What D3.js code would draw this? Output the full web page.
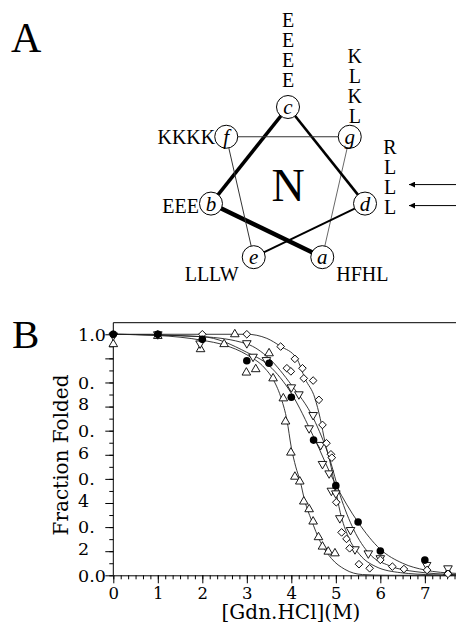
<!DOCTYPE html>
<html>
<head>
<meta charset="utf-8">
<script src="https://cdn.jsdelivr.net/npm/d3@7"></script>
<style>
  html, body { margin: 0; padding: 0; background: #fff; }
  svg { display: block; }
</style>
</head>
<body>
<div id="chart"></div>
<script>
// ---- panel A: heptad positions and residues
const heptad = ['a', 'b', 'c', 'd', 'e', 'f', 'g'];
const residues = ['HFHL', 'EEE', 'EEEE', 'RLLL', 'LLLW', 'KKKK', 'KLKL'];
const bondWidths = [4.5, 3.5, 2.6, 2, 1, 1.2, 0.6]; // a-b, b-c, ... g-a

// ---- panel B: unfolding data, [GdnHCl (M), fraction folded]
const xTicks = [0, 1, 2, 3, 4, 5, 6, 7];
const yTicks = [0, 0.2, 0.4, 0.6, 0.8, 1.0];
const yTickLabels = ['0.0', '0.|2', '0.|4', '0.|6', '0.|8', '1.0'];

const circlePts = [[0, 1.0], [1, 1.0], [2, 0.979], [3, 0.89], [3.5, 0.88], [4, 0.739],
  [4.5, 0.561], [5, 0.372], [5.5, 0.221], [6, 0.101], [7, 0.063]];

const upTriPts = [[0, 0.959], [1, 0.993], [1.96, 0.938], [2.49, 0.959], [2.73, 1.0],
  [2.99, 0.841], [3.2, 0.855], [3.5, 0.921], [3.59, 0.817], [3.82, 0.734], [3.87, 0.638],
  [3.99, 0.509], [4.08, 0.409], [4.19, 0.389], [4.28, 0.306], [4.4, 0.274], [4.49, 0.223],
  [4.61, 0.158], [4.7, 0.119], [4.83, 0.098], [4.98, 0.091], [7.52, 0.012]];

const downTriPts = [[0, 0.995], [1, 1.0], [1.95, 0.962], [3.0, 0.963], [3.14, 0.907],
  [3.44, 0.893], [4.0, 0.78], [4.17, 0.751], [4.49, 0.665], [4.4, 0.61], [4.66, 0.541],
  [4.7, 0.462], [4.85, 0.423], [4.9, 0.351], [5.0, 0.34], [5.09, 0.237], [5.33, 0.188],
  [5.43, 0.108], [5.73, 0.091], [6.0, 0.071], [7.04, 0.043], [7.52, 0.029]];

const diamondPts = [[0, 1.0], [1, 1.0], [2, 1.0], [3, 1.0], [3.76, 0.949], [4.08, 0.898],
  [3.9, 0.859], [3.99, 0.846], [4.25, 0.859], [4.28, 0.817], [4.49, 0.808], [4.62, 0.728],
  [4.7, 0.624], [4.79, 0.548], [4.89, 0.502], [4.91, 0.488], [5.01, 0.303], [5.13, 0.178],
  [5.24, 0.151], [5.31, 0.112], [5.52, 0.046], [5.76, 0.029], [6.0, 0.064], [6.27, 0.036],
  [6.53, 0.026], [7.05, 0.022], [7.52, 0.006]];

// fitted curves
const fitUpTri = [[0, 1.0], [1, 0.995], [2, 0.975], [2.5, 0.955], [3, 0.915], [3.4, 0.86],
  [3.6, 0.81], [3.78, 0.73], [3.9, 0.645], [4.0, 0.53], [4.1, 0.45], [4.2, 0.39], [4.3, 0.31],
  [4.45, 0.23], [4.65, 0.14], [4.9, 0.07], [5.2, 0.025], [5.6, 0.003], [6.2, 0], [7.7, 0]];
const fitDownTri = [[0, 1.0], [2, 0.99], [3, 0.96], [3.5, 0.9], [4, 0.79], [4.5, 0.65],
  [4.85, 0.49], [5.1, 0.33], [5.4, 0.19], [5.75, 0.09], [6.2, 0.04], [6.8, 0.015], [7.7, 0.003]];
const fitCircle = [[0, 1.0], [2, 0.99], [3, 0.925], [3.5, 0.87], [4, 0.755], [4.5, 0.575],
  [5, 0.375], [5.5, 0.22], [6, 0.108], [6.5, 0.05], [7, 0.022], [7.7, 0.008]];
const fitDiamond = [[0, 1.0], [3, 1.0], [3.45, 0.983], [3.75, 0.951], [4.12, 0.9],
  [4.31, 0.815], [4.53, 0.735], [4.65, 0.65], [4.76, 0.55], [4.87, 0.47], [4.98, 0.37],
  [5.1, 0.26], [5.28, 0.16], [5.54, 0.085], [5.9, 0.036], [6.45, 0.011], [7.2, 0.002], [7.7, 0]];

const W = 456, H = 622;
const serifA = '"Liberation Serif", "Times New Roman", serif';
const serifB = '"DejaVu Serif", serif';

const svg = d3.select('#chart').append('svg')
  .attr('width', W)
  .attr('height', H);

// ================= Panel A =================
svg.append('text')
  .attr('x', 11).attr('y', 52)
  .style('font-family', serifA).style('font-size', '42px')
  .text('A');

const wheel = svg.append('g');
const cx = 288, cy = 186, R = 79, r = 11.5;
// wheel slot of each heptad position (100 deg per residue, clockwise from top = c)
const slotOf = i => (3 + 2 * i) % 7;
const angle = d3.scaleLinear().domain([0, 7]).range([-Math.PI / 2, 1.5 * Math.PI]);
const nodes = heptad.map((p, i) => {
  const a = angle(slotOf(i));
  return { pos: p, res: residues[i], x: cx + R * Math.cos(a), y: cy + R * Math.sin(a) };
});

// connecting bonds a->b->c ... g->a
const bonds = nodes.map((n, i) => ({ s: n, t: nodes[(i + 1) % 7], w: bondWidths[i] }));
wheel.selectAll('line.bond')
  .data(bonds)
  .enter()
  .append('line')
  .attr('class', 'bond')
  .attr('x1', d => d.s.x).attr('y1', d => d.s.y)
  .attr('x2', d => d.t.x).attr('y2', d => d.t.y)
  .attr('stroke', d => d.w < 1.5 && d.w > 0.8 ? '#333' : '#000')
  .attr('stroke-width', d => d.w);

const nodeG = wheel.selectAll('g.node')
  .data(nodes)
  .enter()
  .append('g')
  .attr('class', 'node')
  .attr('transform', d => `translate(${d.x},${d.y})`);
nodeG.append('circle')
  .attr('r', r)
  .attr('fill', '#fff')
  .attr('stroke', '#000')
  .attr('stroke-width', 1);
nodeG.append('text')
  .attr('text-anchor', 'middle')
  .attr('dy', '0.33em')
  .style('font-family', serifA).style('font-style', 'italic').style('font-size', '21px')
  .text(d => d.pos);

wheel.append('text')
  .attr('x', cx).attr('y', 201)
  .attr('text-anchor', 'middle')
  .style('font-family', serifA).style('font-size', '46px')
  .text('N');

// residue labels
const labelStyle = sel => sel.style('font-family', serifA).style('font-size', '20px');
nodes.forEach(n => {
  const letters = n.res.split('');
  if (n.pos === 'c' || n.pos === 'g' || n.pos === 'd') {
    let x0, yLast;
    if (n.pos === 'c') { x0 = n.x; yLast = n.y - 27; }
    if (n.pos === 'g') { x0 = n.x + 5; yLast = n.y - 21; }
    if (n.pos === 'd') { x0 = n.x + 25; yLast = n.y + 3; }
    wheel.selectAll(null)
      .data(letters)
      .enter()
      .append('text')
      .attr('x', x0)
      .attr('y', (d, i) => yLast - (letters.length - 1 - i) * 20)
      .attr('dy', '0.35em')
      .attr('text-anchor', 'middle')
      .call(labelStyle)
      .text(d => d);
  } else {
    const t = wheel.append('text').call(labelStyle).attr('dy', '0.35em').text(n.res);
    if (n.pos === 'f') t.attr('x', n.x - 11).attr('y', n.y).attr('text-anchor', 'end');
    if (n.pos === 'b') t.attr('x', n.x - 12).attr('y', n.y + 2).attr('text-anchor', 'end');
    if (n.pos === 'e') t.attr('x', n.x - 15).attr('y', n.y + 17).attr('text-anchor', 'end');
    if (n.pos === 'a') t.attr('x', n.x + 14).attr('y', n.y + 17).attr('text-anchor', 'start');
  }
});

// arrows pointing at the d-position leucines
const dNode = nodes[3];
const arrowYs = [dNode.y - 19, dNode.y + 2];
svg.append('defs').append('marker')
  .attr('id', 'arrowhead')
  .attr('viewBox', '0 -5 10 10')
  .attr('refX', 10).attr('refY', 0)
  .attr('markerWidth', 9).attr('markerHeight', 6)
  .attr('markerUnits', 'userSpaceOnUse')
  .attr('orient', 'auto')
  .append('path')
  .attr('d', 'M0,-5L10,0L0,5Z')
  .attr('fill', '#000');
svg.selectAll('line.arrow')
  .data(arrowYs)
  .enter()
  .append('line')
  .attr('class', 'arrow')
  .attr('x1', W).attr('y1', d => d)
  .attr('x2', 409).attr('y2', d => d)
  .attr('stroke', '#000').attr('stroke-width', 1)
  .attr('marker-end', 'url(#arrowhead)');

// ================= Panel B =================
svg.append('text')
  .attr('x', 12).attr('y', 348)
  .style('font-family', serifA).style('font-size', '41px')
  .text('B');

const x = d3.scaleLinear().domain([0, 7.7]).range([113.3, W]);
const y = d3.scaleLinear().domain([0, 1.048]).range([575.3, 322.7]);

const plot = svg.append('g');

// frame top
plot.append('line')
  .attr('x1', x(0)).attr('x2', W)
  .attr('y1', y(1.048)).attr('y2', y(1.048))
  .attr('stroke', '#000').attr('stroke-width', 1);

// y axis: minor + major ticks
const yMinor = d3.range(0, 21).map(i => i * 0.05);
plot.append('g')
  .attr('transform', `translate(${x(0)},0)`)
  .call(d3.axisLeft(y).tickValues(yMinor).tickSize(4).tickSizeOuter(0).tickFormat(''))
  .call(g => g.select('.domain').attr('d', `M0,${y(1.048)}V${y(0)}`));
const yMajor = d3.range(0, 11).map(i => i * 0.1);
const yAxis = plot.append('g')
  .attr('transform', `translate(${x(0)},0)`)
  .call(d3.axisLeft(y).tickValues(yMajor).tickSize(8).tickSizeOuter(0).tickFormat(''));
yAxis.select('.domain').remove();

// y tick labels (split over two lines as in the figure)
const yLab = plot.selectAll('text.ylab')
  .data(yTicks)
  .enter()
  .append('text')
  .attr('class', 'ylab')
  .attr('x', 78)
  .attr('y', d => y(d))
  .style('font-family', serifB).style('font-size', '17.5px');
yLab.each(function (d, i) {
  const parts = yTickLabels[i].split('|');
  const t = d3.select(this);
  parts.forEach((p, k) => {
    t.append('tspan')
      .attr('x', 78)
      .attr('dy', k === 0 ? '0.36em' : '1.24em')
      .text(p);
  });
});

// x axis: minor + major ticks
const xMinor = d3.range(0, 47).map(i => i / 6);
plot.append('g')
  .attr('transform', `translate(0,${y(0)})`)
  .call(d3.axisBottom(x).tickValues(xMinor).tickSize(4).tickSizeOuter(0).tickFormat(''));
const xAxis = plot.append('g')
  .attr('transform', `translate(0,${y(0)})`)
  .call(d3.axisBottom(x).tickValues(xTicks).tickSize(8).tickSizeOuter(0).tickPadding(4)
    .tickFormat(d3.format('d')));
xAxis.select('.domain').remove();
xAxis.selectAll('text')
  .style('font-family', serifB).style('font-size', '16.5px').attr('fill', '#000');
plot.selectAll('.tick line').attr('stroke', '#000');
plot.selectAll('.domain').attr('stroke', '#000');

// axis titles
svg.append('text')
  .attr('transform', `translate(68,455) rotate(-90)`)
  .attr('text-anchor', 'middle')
  .style('font-family', serifB).style('font-size', '20px')
  .text('Fraction Folded');
svg.append('text')
  .attr('x', 291).attr('y', 619)
  .attr('text-anchor', 'middle')
  .style('font-family', serifB).style('font-size', '20px')
  .text('[Gdn.HCl](M)');

// fitted curves
const line = d3.line()
  .x(d => x(d[0]))
  .y(d => y(d[1]))
  .curve(d3.curveMonotoneX);
plot.selectAll('path.fit')
  .data([fitUpTri, fitDownTri, fitCircle, fitDiamond])
  .enter()
  .append('path')
  .attr('class', 'fit')
  .attr('d', line)
  .attr('fill', 'none')
  .attr('stroke', '#222')
  .attr('stroke-width', 0.9);

// markers
const triSym = d3.symbol().type(d3.symbolTriangle).size(32)();
const diaSym = d3.symbol().type(d3.symbolSquare).size(29)();

plot.selectAll('path.up')
  .data(upTriPts)
  .enter()
  .append('path')
  .attr('class', 'up')
  .attr('d', triSym)
  .attr('transform', d => `translate(${x(d[0])},${y(d[1])})`)
  .attr('fill', '#fff').attr('stroke', '#000').attr('stroke-width', 0.9);

plot.selectAll('path.down')
  .data(downTriPts)
  .enter()
  .append('path')
  .attr('class', 'down')
  .attr('d', triSym)
  .attr('transform', d => `translate(${x(d[0])},${y(d[1])}) rotate(180)`)
  .attr('fill', '#fff').attr('stroke', '#000').attr('stroke-width', 0.9);

plot.selectAll('path.dia')
  .data(diamondPts)
  .enter()
  .append('path')
  .attr('class', 'dia')
  .attr('d', diaSym)
  .attr('transform', d => `translate(${x(d[0])},${y(d[1])}) rotate(45)`)
  .attr('fill', '#fff').attr('stroke', '#000').attr('stroke-width', 0.9);

plot.selectAll('circle.pt')
  .data(circlePts)
  .enter()
  .append('circle')
  .attr('class', 'pt')
  .attr('cx', d => x(d[0]))
  .attr('cy', d => y(d[1]))
  .attr('r', 3.8)
  .attr('fill', '#000');
</script>
</body>
</html>
